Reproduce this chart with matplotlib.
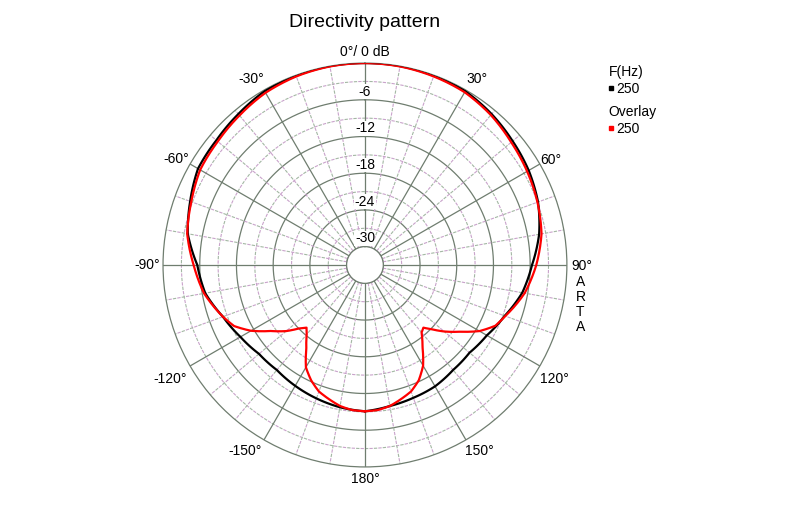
import numpy as np
import matplotlib.pyplot as plt
from matplotlib.lines import Line2D

plt.rcParams['font.family'] = ['Liberation Sans', 'DejaVu Sans']

# measured pattern, 250 Hz (degrees clockwise from front, dB)
black_deg = [-180, -170, -160, -150, -140, -130, -120, -110, -100, -90, -80, -70,
             -60, -50, -40, -30, -20, -10, 0, 10, 20, 30, 40, 50, 60, 70, 80, 90,
             100, 110, 120, 130, 140, 150, 160, 170, 180]
black_db = [-9.1, -9.4, -9.8, -10.2, -10.6, -10.4, -9.5, -8.3, -6.5, -5.6, -3.6, -2.6,
            -1.5, -1.3, -0.8, -0.2, -0.1, 0.0, 0.0, 0.0, -0.1, -0.2, -0.8, -1.5, -2.1, -2.9, -4.1, -5.7,
            -6.9, -8.7, -10.0, -10.7, -10.6, -10.1, -9.9, -9.6, -9.1]

# overlay, 250 Hz
red_deg = [-180, -175, -170, -165, -160, -155, -150, -145, -140, -137, -134, -130, -125,
           -120, -115, -110, -100, -90, -80, -70, -60, -50, -40, -30, -20, -10, 0,
           10, 20, 30, 40, 50, 60, 70, 80, 90, 100, 110, 115, 120, 125, 130, 134,
           137, 140, 145, 150, 155, 160, 165, 170, 175, 180]
red_db = [-9.1, -9.2, -9.6, -10.3, -11.0, -12.2, -13.7, -16.3, -18.2, -19.0, -18.1, -16.2, -14.2,
          -11.5, -9.4, -8.3, -6.3, -5.0, -3.5, -2.8, -1.9, -1.6, -1.1, -0.5, -0.2, -0.05, 0.0,
          -0.05, -0.2, -0.4, -1.0, -1.8, -2.4, -3.0, -3.7, -5.0, -6.5, -8.6, -9.5, -11.4, -14.0, -16.1, -17.9,
          -19.0, -18.6, -16.6, -14.0, -12.2, -11.0, -10.3, -9.6, -9.2, -9.1]

angle_ticks = [0, 30, 60, 90, 120, 150, 180, -150, -120, -90, -60, -30]
angle_labels = ['0°/ 0 dB', '30°', '60°', '90°', '120°', '150°', '180°',
                '-150°', '-120°', '-90°', '-60°', '-30°']
# label placement (angle nudge in deg, radius in dB beyond 0)
label_pos = [(0, 1.85), (1.0, 2.4), (0.4, 1.9), (0.3, 2.4), (1.1, 3.2), (-1.6, 2.75),
             (0, 2.0), (2.9, 3.2), (-0.3, 3.9), (0, 2.65), (-0.8, 2.4), (-1.6, 2.6)]
db_ticks = [-6, -12, -18, -24, -30]

solid = '#6f7d6f'
pink = '#c9a3cb'
green = '#a3b7a3'

fig = plt.figure(figsize=(8, 5.3), dpi=100)
ax = fig.add_axes([0.2037, 0.119, 0.505, 0.762], projection='polar')
ax.set_theta_zero_location('N')
ax.set_theta_direction(-1)
ax.set_rorigin(-33)
ax.set_rlim(-30, 0)
ax.set_xticks([])
ax.set_yticks([])
ax.grid(False)
for s in ('polar', 'inner'):
    ax.spines[s].set_color(solid)
    ax.spines[s].set_linewidth(0.9)


def dashed(t, r):
    # two-colour dashes like the original
    ax.plot(t, r, color=pink, lw=0.8, ls=(0, (3, 5)), zorder=1)
    ax.plot(t, r, color=green, lw=0.8, ls=(4, (3, 5)), zorder=1)


full = np.linspace(0, 2 * np.pi, 361)
for v in range(-30, 0, 3):
    if v % 6 == 0:
        ax.plot(full, np.full_like(full, v), color=solid, lw=0.9, zorder=1)
    else:
        dashed(full, np.full_like(full, v))
for a in range(0, 360, 10):
    t = np.deg2rad(a)
    if a % 30 == 0:
        ax.plot([t, t], [-30, 0], color=solid, lw=0.9, zorder=1)
    else:
        dashed([t, t], [-30, 0])

l1, = ax.plot(np.deg2rad(black_deg), black_db, color='black', lw=1.6, zorder=3)
l2, = ax.plot(np.deg2rad(red_deg), red_db, color='#ff0000', lw=1.6, zorder=4)
# draw segments as arcs in polar space instead of chords
l1._path._interpolation_steps = 20
l2._path._interpolation_steps = 20

for a, lab, (da, r) in zip(angle_ticks, angle_labels, label_pos):
    ax.text(np.deg2rad(a + da), r, lab, ha='center', va='center', fontsize=10, clip_on=False)

for v in db_ticks:
    ax.text(0, v + 1.35, str(v), ha='center', va='center', fontsize=10, zorder=5,
            bbox=dict(facecolor='white', edgecolor='none', pad=0.3))

fig.text(0.456, 0.957, 'Directivity pattern', ha='center', va='center', fontsize=14)

# legend
fig.text(0.761, 0.864, 'F(Hz)', ha='left', va='center', fontsize=10)
fig.text(0.770, 0.832, '250', ha='left', va='center', fontsize=10)
fig.text(0.761, 0.788, 'Overlay', ha='left', va='center', fontsize=10)
fig.text(0.770, 0.756, '250', ha='left', va='center', fontsize=10)
fig.add_artist(Line2D([0.7638], [0.8333], marker='s', ms=2.6, color='black',
                      transform=fig.transFigure))
fig.add_artist(Line2D([0.7638], [0.7579], marker='s', ms=2.6, color='#ff0000',
                      transform=fig.transFigure))

for i, ch in enumerate('ARTA'):
    fig.text(0.7256, (530 - 281.7 - 15 * i) / 530, ch, ha='center', va='center', fontsize=10)

fig.savefig('out.png', dpi=100)
